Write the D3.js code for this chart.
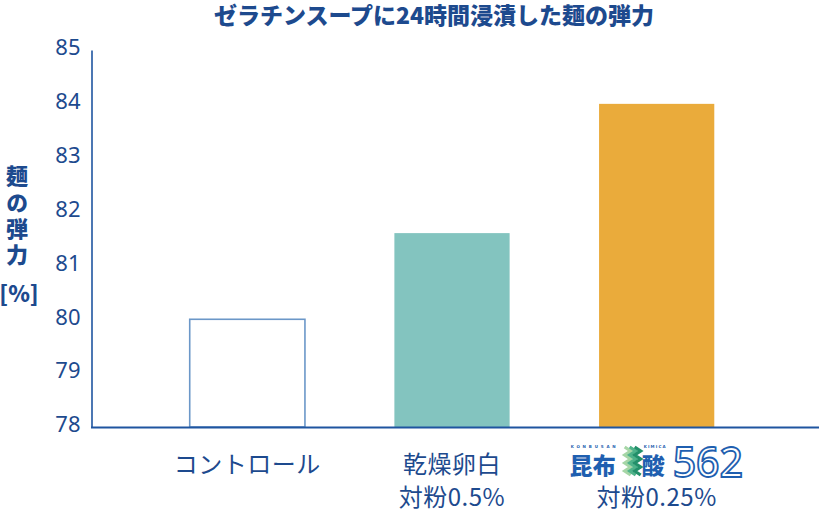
<!DOCTYPE html>
<html>
<head>
<meta charset="utf-8">
<script src="https://cdn.jsdelivr.net/npm/d3@7"></script>
<style>
  html, body { margin: 0; padding: 0; background: #fff; }
  svg { display: block; }
  text { font-family: "Noto Sans CJK JP", "Noto Sans", sans-serif; }
</style>
</head>
<body>
<script>
/////////////////////////////////////////////////
// data /////////////////////////////////////////
/////////////////////////////////////////////////

const categories = ["コントロール", "乾燥卵白", "昆布酸562"];
const subLabels = ["", "対粉0.5%", "対粉0.25%"];
const values = [80.0, 81.6, 84.0];
const yTicks = [78, 79, 80, 81, 82, 83, 84, 85];
const titleText = "ゼラチンスープに24時間浸漬した麺の弾力";
const yLabelText = "麺の弾力";
const yUnitText = "[%]";

const width = 820,
  height = 512;

const navy = "#1d4a8e",
  axisBlue = "#1f55a0",
  logoBlue = "#1f5fb0";

const svg = d3
  .select("body")
  .append("svg")
  .attr("width", width)
  .attr("height", height);

/////////////////////////////////////////////////
// scales ///////////////////////////////////////
/////////////////////////////////////////////////

const x = d3
  .scaleBand()
  .domain(categories)
  .range([145, 759])
  .paddingInner(0.437)
  .paddingOuter(0.2185);

const y = d3.scaleLinear().domain([78, 85]).range([427, 50]);

const fill = d3
  .scaleOrdinal()
  .domain(categories)
  .range(["#ffffff", "#83c4bf", "#eaab3b"]);

/////////////////////////////////////////////////
// title ////////////////////////////////////////
/////////////////////////////////////////////////

svg
  .append("text")
  .attr("x", 434)
  .attr("y", 24)
  .attr("text-anchor", "middle")
  .attr("fill", navy)
  .style("font-size", "23px")
  .style("font-weight", 900)
  .text(titleText);

/////////////////////////////////////////////////
// bars /////////////////////////////////////////
/////////////////////////////////////////////////

svg
  .append("g")
  .selectAll("rect")
  .data(values)
  .join("rect")
  .attr("x", (d, i) => x(categories[i]))
  .attr("width", x.bandwidth())
  .attr("y", (d) => y(d))
  .attr("height", (d) => y(78) - y(d))
  .attr("fill", (d, i) => fill(categories[i]))
  .attr("stroke", (d, i) => (i === 0 ? "#6b97c8" : "none"))
  .attr("stroke-width", 1.6);

/////////////////////////////////////////////////
// axes /////////////////////////////////////////
/////////////////////////////////////////////////

const yAxis = svg
  .append("g")
  .attr("transform", "translate(91.5,0)")
  .call(
    d3
      .axisLeft(y)
      .tickValues(yTicks)
      .tickFormat(d3.format("d"))
      .tickSize(0)
      .tickSizeOuter(0)
      .tickPadding(11)
  );

yAxis.select(".domain").attr("stroke", axisBlue).attr("stroke-width", 1.6);
yAxis
  .selectAll(".tick text")
  .attr("fill", navy)
  .attr("dy", "0.22em")
  .style("font-size", "22px")
  .style("font-family", "'Noto Sans', sans-serif");

svg
  .append("line")
  .attr("x1", 91)
  .attr("x2", 819)
  .attr("y1", 427.5)
  .attr("y2", 427.5)
  .attr("stroke", axisBlue)
  .attr("stroke-width", 2);

// y label, written top to bottom
svg
  .append("text")
  .attr("x", 17)
  .attr("y", 165)
  .attr("fill", navy)
  .style("writing-mode", "vertical-rl")
  .style("font-size", "22px")
  .style("font-weight", 900)
  .style("letter-spacing", "4.3px")
  .text(yLabelText);

svg
  .append("text")
  .attr("x", 19)
  .attr("y", 302)
  .attr("text-anchor", "middle")
  .attr("fill", navy)
  .style("font-size", "22px")
  .style("font-weight", 900)
  .text(yUnitText);

/////////////////////////////////////////////////
// category labels //////////////////////////////
/////////////////////////////////////////////////

const cx = (c) => x(c) + x.bandwidth() / 2;

svg
  .append("g")
  .selectAll("text")
  .data(categories.slice(0, 2))
  .join("text")
  .attr("x", (d) => cx(d))
  .attr("y", 473)
  .attr("text-anchor", "middle")
  .attr("fill", navy)
  .style("font-size", "24px")
  .style("letter-spacing", "0.5px")
  .text((d) => d);

svg
  .append("g")
  .selectAll("text")
  .data(subLabels)
  .join("text")
  .attr("x", (d, i) => cx(categories[i]))
  .attr("y", 506)
  .attr("text-anchor", "middle")
  .attr("fill", navy)
  .style("font-size", "24px")
  .style("letter-spacing", "0.5px")
  .text((d) => d);

// logo for the third category
const logo = svg.append("g").attr("transform", "translate(" + (cx(categories[2]) - 87) + ",0)");

logo
  .append("text")
  .attr("x", 0)
  .attr("y", 474)
  .attr("fill", logoBlue)
  .style("font-size", "23px")
  .style("font-weight", 900)
  .text("昆布");

logo
  .append("text")
  .attr("x", 72)
  .attr("y", 474)
  .attr("fill", logoBlue)
  .style("font-size", "23px")
  .style("font-weight", 900)
  .text("酸");

logo
  .append("text")
  .attr("x", 1)
  .attr("y", 448)
  .attr("textLength", 45)
  .attr("fill", logoBlue)
  .style("font-size", "4px")
  .style("font-weight", 700)
  .style("font-family", "'DejaVu Sans', sans-serif")
  .text("KONBUSAN");

logo
  .append("text")
  .attr("x", 74)
  .attr("y", 448)
  .attr("textLength", 22)
  .attr("fill", logoBlue)
  .style("font-size", "4px")
  .style("font-weight", 700)
  .style("font-family", "'DejaVu Sans', sans-serif")
  .text("KIMICA");

// zigzag mark
const zig = [
  [0, 0], [6, 4], [0, 8], [6, 12], [0, 16], [6, 20], [0, 24], [6, 28]
];
const zigColors = ["#a6d6a6", "#4fb38a", "#23906a"];
logo
  .append("g")
  .attr("transform", "translate(55,447)")
  .selectAll("path")
  .data(zigColors)
  .join("path")
  .attr("d", (d, i) => d3.line()(zig.map((p) => [p[0] + i * 5, p[1]])))
  .attr("fill", "none")
  .attr("stroke", (d) => d)
  .attr("stroke-width", 3.2);

logo
  .append("text")
  .attr("x", 103)
  .attr("y", 477)
  .attr("fill", "#fff")
  .attr("stroke", logoBlue)
  .attr("stroke-width", 1.8)
  .style("font-size", "41px")
  .style("font-family", "'Noto Sans', sans-serif")
  .style("font-weight", 500)
  .text("562");
</script>
</body>
</html>
